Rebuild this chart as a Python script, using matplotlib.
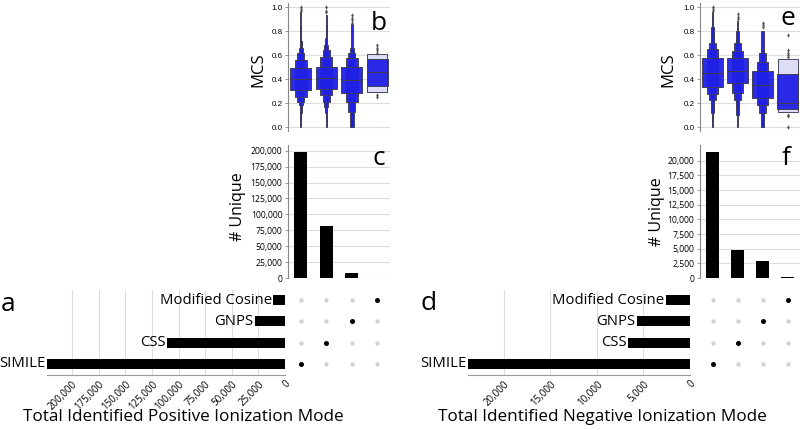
import matplotlib
matplotlib.use("Agg")
import matplotlib.pyplot as plt
from matplotlib.ticker import FuncFormatter

plt.rcParams['font.family'] = ['Open Sans', 'DejaVu Sans']

# ---------------- data ----------------
methods = ["SIMILE", "CSS", "GNPS", "Modified Cosine"]

pos_total = [224000, 111000, 28200, 11000]
pos_unique = [198000, 82500, 8500, 600]
neg_total = [23870, 6650, 5700, 2600]
neg_unique = [21500, 4820, 2850, 100]

# letter-value boxes (low, high), innermost first
pos_levels = [
    [(0.308, 0.489), (0.253, 0.558), (0.21, 0.614), (0.183, 0.66), (0.12, 0.72), (0.05, 0.85), (0.0, 0.96)],
    [(0.317, 0.503), (0.267, 0.58), (0.21, 0.64), (0.17, 0.68), (0.12, 0.74), (0.05, 0.85), (0.0, 0.93)],
    [(0.28, 0.503), (0.21, 0.572), (0.128, 0.62), (0.0, 0.656), (0.0, 0.86)],
    [(0.342, 0.564), (0.294, 0.608)],
]
pos_medians = [0.40, 0.406, 0.392, 0.455]
pos_outliers = [
    [1.0, 0.985, 0.97],
    [1.0, 0.97, 0.955],
    [0.93, 0.91, 0.89, 0.87],
    [0.68, 0.66, 0.64, 0.62, 0.27, 0.25],
]

neg_levels = [
    [(0.336, 0.572), (0.272, 0.647), (0.225, 0.70), (0.183, 0.767), (0.12, 0.83), (0.05, 0.9), (0.0, 0.96)],
    [(0.364, 0.572), (0.28, 0.636), (0.225, 0.70), (0.17, 0.725), (0.1, 0.8), (0.0, 0.88)],
    [(0.239, 0.467), (0.183, 0.544), (0.114, 0.62), (0.0, 0.65), (0.0, 0.8)],
    [(0.147, 0.44), (0.128, 0.564)],
]
neg_medians = [0.447, 0.47, 0.35, 0.20]
neg_outliers = [
    [1.0, 0.985, 0.97],
    [0.94, 0.92, 0.90],
    [0.87, 0.85, 0.83],
    [0.77, 0.64, 0.62, 0.60, 0.58, 0.10, 0.09, 0.0],
]

# ---------------- style ----------------
BLUE = "#2020e6"
LIGHT = "#dcdcf6"
EDGE = "#3c3c55"
GRID = "#dddddd"

fig = plt.figure(figsize=(8, 4.3), dpi=100)
W, H = 800.0, 430.0


def add_ax(x0, y0, x1, y1):
    return fig.add_axes([x0 / W, 1 - y1 / H, (x1 - x0) / W, (y1 - y0) / H])


def level_widths(k):
    if k <= 2:
        return [0.84, 0.80][:k]
    return [0.84 * (0.56 ** i) for i in range(k)]


def boxen(ax, levels, medians, outliers):
    for i, lev in enumerate(levels):
        k = len(lev)
        ws = level_widths(k)
        for j in range(k - 1, -1, -1):
            lo, hi = lev[j]
            col = LIGHT if (k <= 2 and j == k - 1) else BLUE
            ax.bar(i, hi - lo, bottom=lo, width=ws[j], color=col, edgecolor=EDGE,
                   linewidth=0.7, alpha=0.95, zorder=2)
        ax.plot([i - ws[0] / 2, i + ws[0] / 2], [medians[i]] * 2, color=EDGE, lw=0.8, zorder=3)
        ax.scatter([i] * len(outliers[i]), outliers[i], marker='d', s=5, color="#555555",
                   linewidths=0, zorder=3)
    ax.set_xlim(-0.5, 3.5)
    ax.set_ylim(-0.035, 1.03)
    ax.set_yticks([0.0, 0.2, 0.4, 0.6, 0.8, 1.0])
    ax.yaxis.set_major_formatter(FuncFormatter(lambda v, p: f"{v:.1f}"))
    ax.set_xticks([])
    ax.grid(axis='y', color=GRID, lw=0.8, zorder=0)
    for s in ['top', 'right', 'bottom']:
        ax.spines[s].set_visible(False)
    ax.spines['left'].set_color("#888888")
    ax.spines['left'].set_linewidth(0.8)
    ax.tick_params(axis='y', labelsize=5.8, length=2, width=0.6, color="#888888", pad=2,
                   labelfontfamily='Liberation Sans')


def unique_bars(ax, values, ymax, ticks):
    ax.bar(range(len(values)), values, width=0.5, color='black', zorder=2)
    ax.set_xlim(-0.5, 3.5)
    ax.set_ylim(0, ymax)
    ax.set_yticks(ticks)
    ax.yaxis.set_major_formatter(FuncFormatter(lambda v, p: f"{int(v):,}"))
    ax.set_xticks([])
    ax.grid(axis='y', color=GRID, lw=0.8, zorder=0)
    for s in ['top', 'right', 'bottom']:
        ax.spines[s].set_visible(False)
    ax.spines['left'].set_color("#888888")
    ax.spines['left'].set_linewidth(0.8)
    ax.tick_params(axis='y', labelsize=6.2, length=2, width=0.6, color="#888888", pad=2)


def matrix(ax, n):
    for c in range(n):
        for r in range(n):
            active = (r == c)
            ax.scatter(c, r, s=13 if active else 10, color='black' if active else "#d2d2d2",
                       linewidths=0, zorder=2)
    ax.set_xlim(-0.5, n - 0.5)
    ax.set_ylim(-0.5, n - 0.5)
    ax.axis('off')


def total_bars(ax, values, ticks):
    ax.barh(range(len(values)), values, height=0.47, color='black', zorder=2)
    ax.set_xlim(max(values), 0)
    ax.set_ylim(-0.5, len(values) - 0.5)
    ax.set_xticks(ticks)
    ax.xaxis.set_major_formatter(FuncFormatter(lambda v, p: f"{int(v):,}"))
    ax.set_yticks([])
    ax.grid(axis='x', color=GRID, lw=0.8, zorder=0)
    for s in ['top', 'right', 'left']:
        ax.spines[s].set_visible(False)
    ax.spines['bottom'].set_color("#999999")
    ax.spines['bottom'].set_linewidth(0.8)
    ax.tick_params(axis='x', labelsize=7, length=0, pad=3)
    for lab in ax.get_xticklabels():
        lab.set_rotation(45)
        lab.set_ha('right')
        lab.set_rotation_mode('anchor')
    for i, v in enumerate(values):
        ax.annotate(methods[i], (v, i), xytext=(-1, 0), textcoords='offset points',
                    ha='right', va='center', fontsize=10.7)


# ---------------- left (positive) ----------------
ax_b = add_ax(288, 3.4, 390, 131.2)
boxen(ax_b, pos_levels, pos_medians, pos_outliers)
ax_c = add_ax(288, 145, 390, 278)
unique_bars(ax_c, pos_unique, 209000, list(range(0, 200001, 25000)))
ax_m = add_ax(288, 289.5, 390, 374.5)
matrix(ax_m, 4)
ax_a = add_ax(46.7, 289.5, 285, 374.5)
total_bars(ax_a, pos_total, list(range(0, 200001, 25000)))

# ---------------- right (negative) ----------------
ax_e = add_ax(700, 3.4, 800, 131.2)
boxen(ax_e, neg_levels, neg_medians, neg_outliers)
ax_f = add_ax(700, 145, 800, 278)
unique_bars(ax_f, neg_unique, 22700, list(range(0, 20001, 2500)))
ax_m2 = add_ax(700, 289.5, 800, 374.5)
matrix(ax_m2, 4)
ax_d = add_ax(468, 289.5, 690, 374.5)
total_bars(ax_d, neg_total, list(range(0, 20001, 5000)))


# ---------------- text ----------------
def ftext(x, y, s, **kw):
    fig.text(x / W, 1 - y / H, s, **kw)


ftext(258, 70, "MCS", rotation=90, ha='center', va='center', fontsize=12)
ftext(238, 207, "# Unique", rotation=90, ha='center', va='center', fontsize=11.5)
ftext(668, 70, "MCS", rotation=90, ha='center', va='center', fontsize=12)
ftext(657, 212, "# Unique", rotation=90, ha='center', va='center', fontsize=11.5)

ftext(183, 417, "Total Identified Positive Ionization Mode", ha='center', va='center', fontsize=12.3)
ftext(602, 417, "Total Identified Negative Ionization Mode", ha='center', va='center', fontsize=12.3)

for lx, ly, s in [(1, 311, "a"), (371, 30, "b"), (372, 165, "c"),
                  (421, 310, "d"), (781, 25, "e"), (782, 165, "f")]:
    ftext(lx, ly, s, ha='left', va='baseline', fontsize=19)

fig.savefig("out.png", dpi=100)
